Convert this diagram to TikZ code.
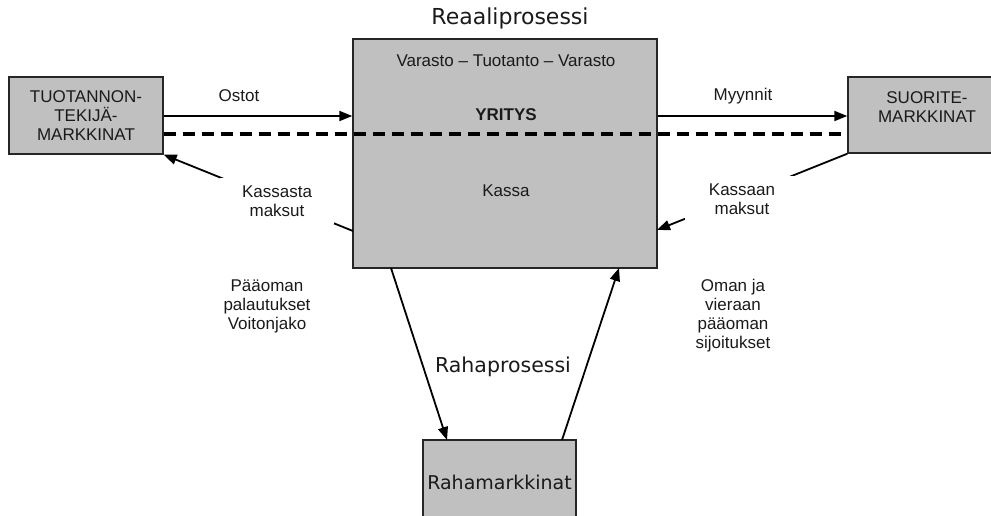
\documentclass[tikz,border=0pt]{standalone}
\usepackage{fontspec}
\setmainfont{Liberation Sans}
\newfontfamily\dejavu{DejaVu Sans}
\usetikzlibrary{arrows.meta,calc}
\definecolor{boxgray}{HTML}{C0C0C0}
\definecolor{txt}{HTML}{1A1A1A}
\begin{document}
\begin{tikzpicture}[x=1pt,y=-1pt,
  box/.style={draw=black!85,line width=1.4pt,fill=boxgray,inner sep=0pt},
  lbl/.style={font=\fontsize{17}{19}\selectfont,text=txt,align=center,inner sep=0pt},
  cutlbl/.style={lbl,fill=white,minimum width=114pt,minimum height=46pt},
  flow/.style={line width=1.8pt,draw=black,-{Triangle[length=13pt,width=10pt]}},
  sep/.style={line width=3.2pt,draw=black,dash pattern=on 12pt off 7pt}]
\clip (0,0) rectangle (991,515);
\useasboundingbox (0,0) rectangle (991,515);
% boxes
\node[box,minimum width=154pt,minimum height=77pt,lbl] (tuot) at (86,115.5) {TUOTANNON-\\TEKIJÄ-\\MARKKINAT};
\node[box,minimum width=158pt,minimum height=76pt] (suor) at (927,115) {};
\node[lbl] (suortxt) at (927,107) {SUORITE-\\MARKKINAT};
\node[box,minimum width=304pt,minimum height=229pt] (yritys) at (505,153.5) {};
\node[box,minimum width=153pt,minimum height=84pt,font=\dejavu\fontsize{19}{22}\selectfont,text=txt] (raha) at (499.5,482) {Rahamarkkinat};
% texts in main box
\node[lbl] (varasto) at (506,61) {Varasto – Tuotanto – Varasto};
\node[lbl,font=\bfseries\fontsize{17}{19}\selectfont] (yr) at (506,115) {YRITYS};
\node[lbl] (kassa) at (506,191) {Kassa};
% titles
\node[font=\dejavu\fontsize{22}{26}\selectfont,text=txt,inner sep=0pt] (reaali) at (510,18) {Reaaliprosessi};
\node[font=\dejavu\fontsize{20.5}{24}\selectfont,text=txt,inner sep=0pt] (rahap) at (503,367) {Rahaprosessi};
% coordinates
\coordinate (dashy) at (0,134);
\coordinate (ksStart) at (353,231);
\coordinate (kaTip) at (657,230);
\coordinate (bl1) at (391,268);
\coordinate (bl2) at (447,440);
\coordinate (br1) at (562,440);
\coordinate (br2) at (619,268);
% connectors
\draw[flow] (tuot.east |- 0,116) -- (yritys.west |- 0,116);
\draw[flow] (yritys.east |- 0,116) -- (suor.west |- 0,116);
\draw[sep] (tuot.east |- dashy) -- (suor.west |- dashy);
\draw[flow] (ksStart) -- (tuot.south east);
\draw[flow] (suor.south west) -- (kaTip);
\draw[flow] (bl1) -- (bl2);
\draw[flow] (br1) -- (br2);
% labels
\node[lbl] (ostot) at (239,96) {Ostot};
\node[lbl] (myynnit) at (743,96) {Myynnit};
\node[cutlbl] (kassasta) at (277,201) {Kassasta\\maksut};
\node[cutlbl] (kassaan) at (742,199) {Kassaan\\maksut};
\node[lbl] (paaoma) at (267,306) {Pääoman\\palautukset\\Voitonjako};
\node[lbl] (oman) at (733,316) {Oman ja\\vieraan\\pääoman\\sijoitukset};
\end{tikzpicture}
\end{document}
